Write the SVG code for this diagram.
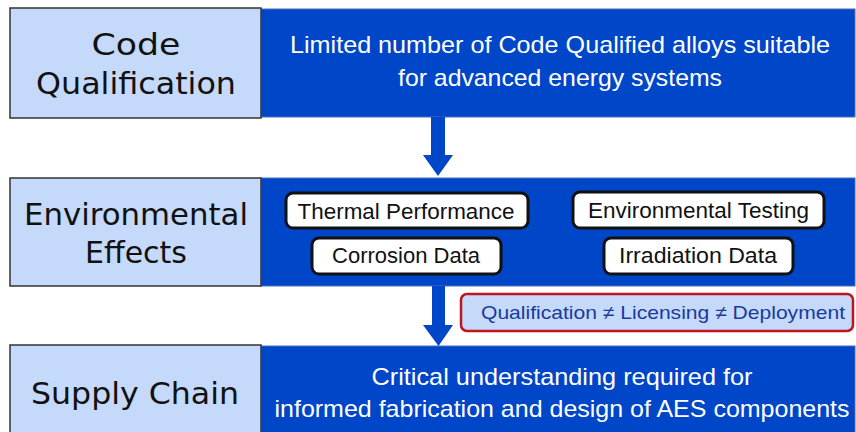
<svg xmlns="http://www.w3.org/2000/svg" width="856" height="432" viewBox="0 0 856 432">
<defs>
<style>
.lbl{fill:#c5d9fb;stroke:#333;stroke-width:1.5}
.band{fill:#0046c8;stroke:#4a6fc0;stroke-width:1}
.lt{font-family:"DejaVu Sans",sans-serif;font-size:31px;fill:#111;text-anchor:middle}
.wt{font-family:"Liberation Sans",Arial,sans-serif;font-size:24px;fill:#fff;text-anchor:middle}
.pill{fill:#fff;stroke:#111;stroke-width:3}
.pt{font-family:"Liberation Sans",Arial,sans-serif;font-size:22px;fill:#111;text-anchor:middle}
.arr{fill:#0046c8}
</style>
</defs>
<rect width="856" height="432" fill="#fff"/>

<g id="code-qualification">
<rect class="band" x="261" y="9" width="594" height="108"/>
<rect class="lbl" x="10" y="8" width="251" height="110"/>
<text class="lt" x="136" y="55" textLength="89" lengthAdjust="spacingAndGlyphs">Code</text>
<text class="lt" x="136" y="94" textLength="200" lengthAdjust="spacingAndGlyphs">Qualification</text>
<text class="wt" x="560" y="53" textLength="540" lengthAdjust="spacingAndGlyphs">Limited number of Code Qualified alloys suitable</text>
<text class="wt" x="560" y="86" textLength="324" lengthAdjust="spacingAndGlyphs">for advanced energy systems</text>
</g>

<g id="environmental-effects">
<rect class="band" x="261" y="178" width="594" height="108"/>
<rect class="lbl" x="10" y="178" width="251" height="108"/>
<text class="lt" x="136" y="225" textLength="224" lengthAdjust="spacingAndGlyphs">Environmental</text>
<text class="lt" x="136" y="263" textLength="102" lengthAdjust="spacingAndGlyphs">Effects</text>
</g>

<g id="thermal-performance">
<rect class="pill" x="286" y="193" width="242" height="35" rx="7"/>
<text class="pt" x="406" y="219" textLength="217" lengthAdjust="spacingAndGlyphs">Thermal Performance</text>
</g>
<g id="corrosion-data">
<rect class="pill" x="312" y="238" width="189" height="36" rx="7"/>
<text class="pt" x="406" y="263" textLength="148" lengthAdjust="spacingAndGlyphs">Corrosion Data</text>
</g>
<g id="environmental-testing">
<rect class="pill" x="573" y="192" width="251" height="36" rx="7"/>
<text class="pt" x="698.5" y="218" textLength="221" lengthAdjust="spacingAndGlyphs">Environmental Testing</text>
</g>
<g id="irradiation-data">
<rect class="pill" x="604" y="238" width="189" height="36" rx="7"/>
<text class="pt" x="698" y="263" textLength="158" lengthAdjust="spacingAndGlyphs">Irradiation Data</text>
</g>

<g id="qualification-note">
<rect x="461" y="294" width="392" height="37" rx="6" fill="#c5d9fb" stroke="#c0141e" stroke-width="2.5"/>
<text x="663" y="319" font-family="Liberation Sans, Arial, sans-serif" font-size="19" fill="#1a3a9c" text-anchor="middle" textLength="364" lengthAdjust="spacingAndGlyphs">Qualification ≠ Licensing ≠ Deployment</text>
</g>

<g id="supply-chain">
<rect class="band" x="261" y="346" width="594" height="90"/>
<rect class="lbl" x="10" y="345" width="251" height="92"/>
<text class="lt" x="135" y="404" textLength="208" lengthAdjust="spacingAndGlyphs">Supply Chain</text>
<text class="wt" x="562" y="385" textLength="381" lengthAdjust="spacingAndGlyphs">Critical understanding required for</text>
<text class="wt" x="562" y="417" textLength="575" lengthAdjust="spacingAndGlyphs">informed fabrication and design of AES components</text>
</g>

<g id="connectors">
<polygon class="arr" points="431,117 445,117 445,155 453,155 438,176 423,155 431,155"/>
<polygon class="arr" points="432,286 445,286 445,325 453,325 438.5,346 423,325 432,325"/>
</g>
</svg>
